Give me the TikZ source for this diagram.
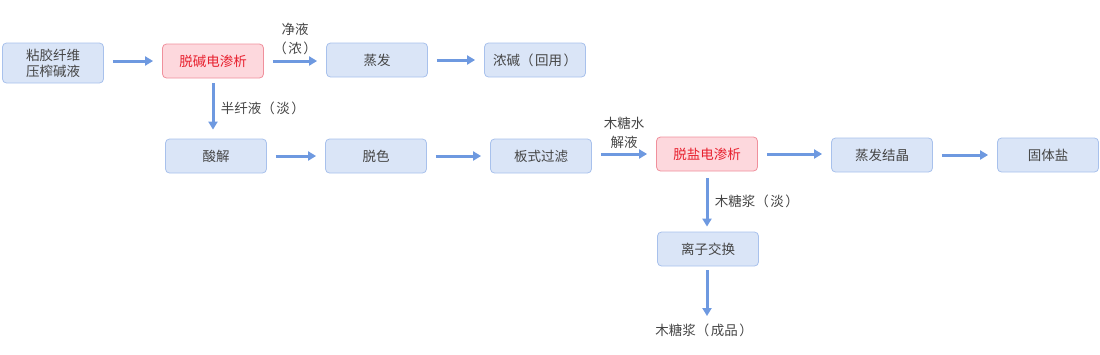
\documentclass[tikz,border=0pt]{standalone}
\usepackage{fontspec}
\setmainfont{Noto Sans CJK SC}
\usepackage{xcolor}
\usetikzlibrary{arrows.meta}

\definecolor{boxfill}{HTML}{DAE5F7}
\definecolor{boxline}{HTML}{A8C1EC}
\definecolor{hotfill}{HTML}{FDD8DD}
\definecolor{hotline}{HTML}{F0909C}
\definecolor{hottext}{HTML}{E8202E}
\definecolor{flowcol}{HTML}{6E99E0}
\definecolor{txt}{HTML}{454545}

\newcommand{\lp}{（\hspace{1.5pt}}
\newcommand{\rp}{\hspace{1.5pt}）}

\tikzset{
    proc/.style={draw=boxline, fill=boxfill, rounded corners=4pt, line width=0.8pt,
        minimum width=101pt, minimum height=34pt, inner sep=1pt,
        font=\fontsize{13.5pt}{16pt}\selectfont, text=txt, align=center},
    hot/.style={proc, draw=hotline, fill=hotfill, text=hottext},
    flow/.style={draw=flowcol, line width=3pt, -{Triangle[length=8pt,width=9pt]},
        shorten <=9pt, shorten >=9pt},
    lbl/.style={font=\fontsize{13.5pt}{19pt}\selectfont, text=txt, align=center}
}

\begin{document}
\begin{tikzpicture}[x=1pt, y=-1pt]
    \useasboundingbox (0,0) rectangle (1100,354);

    % top row
    \node[proc, minimum height=40pt] (feed) at (53,63) {粘胶纤维\\压榨碱液};
    \node[hot] (ed1) at (213,61) {脱碱电渗析};
    \node[proc] (evap) at (377,60) {蒸发};
    \node[proc] (lye) at (535,60) {浓碱\lp 回用\rp};

    % middle row
    \node[proc] (acid) at (216,156) {酸解};
    \node[proc] (decol) at (376,156) {脱色};
    \node[proc] (press) at (541,156) {板式过滤};
    \node[hot] (ed2) at (707,154) {脱盐电渗析};
    \node[proc] (cryst) at (882,155) {蒸发结晶};
    \node[proc] (salt) at (1048,155) {固体盐};

    % bottom branch
    \node[proc] (ionx) at (708,249) {离子交换};
    \node[lbl] (prod) at (704,330) {木糖浆\lp 成品\rp};

    % connectors
    \draw[flow] (feed.east |- ed1) -- (ed1);
    \draw[flow] (ed1) -- node[lbl, above=1pt] {净液\\\lp 浓\rp} (evap.west |- ed1);
    \draw[flow] (evap) -- (lye);
    \draw[flow, shorten <=5pt] (ed1.south) -- node[lbl, right=3pt] {半纤液\lp 淡\rp} (ed1.south |- acid.north);
    \draw[flow] (acid) -- (decol);
    \draw[flow] (decol) -- (press);
    \draw[flow] (press.east |- ed2) -- node[lbl, above=1pt] {木糖水\\解液} (ed2);
    \draw[flow] (ed2) -- (cryst.west |- ed2);
    \draw[flow] (cryst) -- (salt);
    \draw[flow, shorten <=7pt, shorten >=5pt] (ed2.south) -- node[lbl, right=3pt] {木糖浆\lp 淡\rp} (ed2.south |- ionx.north);
    \draw[flow, shorten <=4pt, shorten >=4pt] (ed2.south |- ionx.south) -- (ed2.south |- prod.north);
\end{tikzpicture}
\end{document}
